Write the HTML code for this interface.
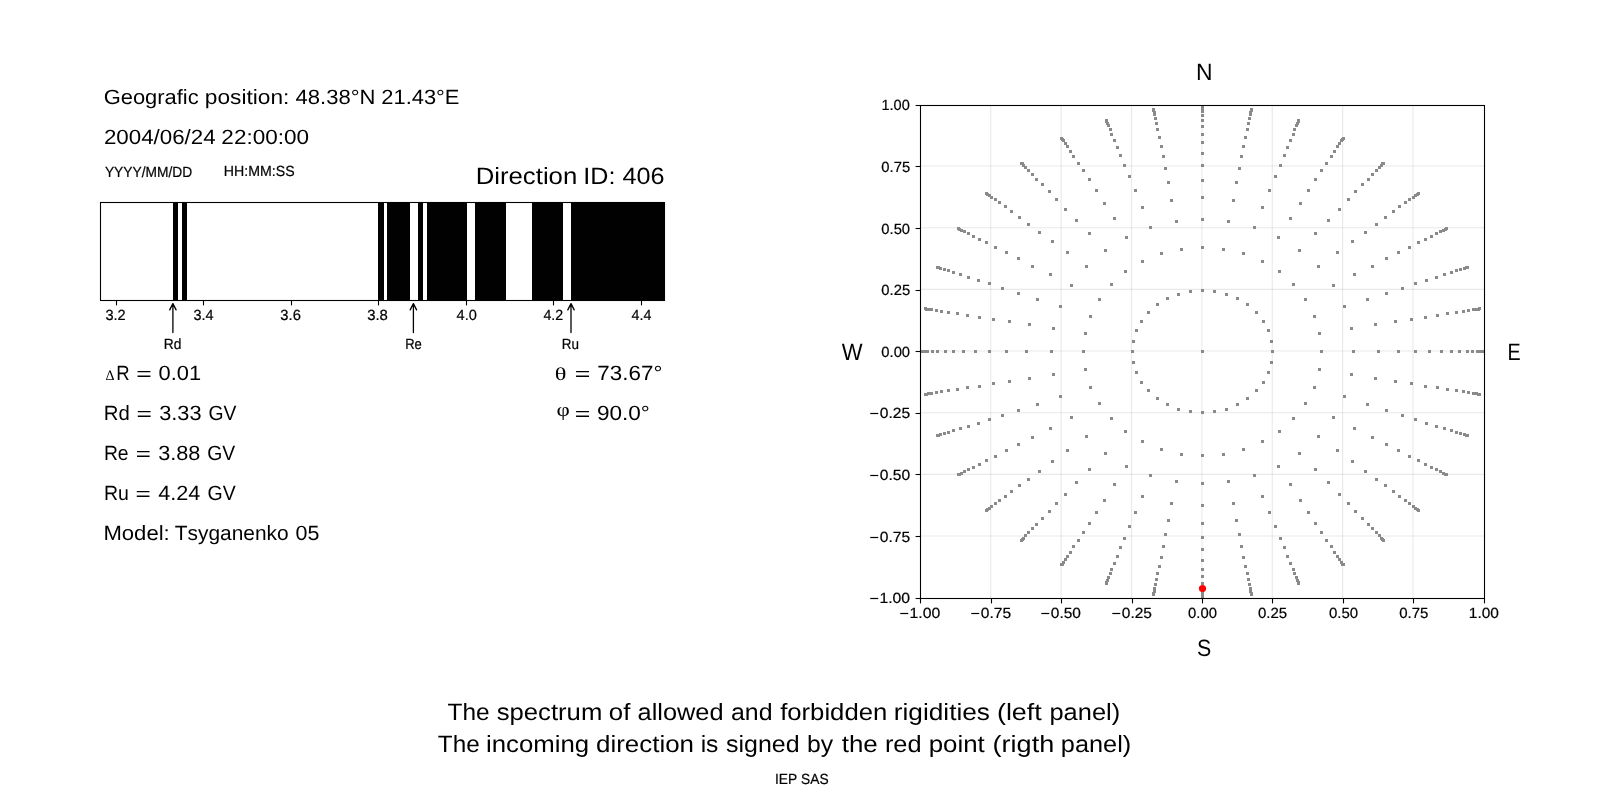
<!DOCTYPE html>
<html><head><meta charset="utf-8"><title>Rigidity spectrum</title>
<style>html,body{margin:0;padding:0;background:#fff;overflow:hidden}svg{display:block}text{font-kerning:none;white-space:pre;text-rendering:geometricPrecision}svg>g{opacity:.999}</style>
</head><body>
<svg width="1600" height="800" viewBox="0 0 1600 800">
<rect x="0" y="0" width="1600" height="800" fill="#fff"/>
<g id="spectrum">
<rect x="173" y="202" width="5" height="99" fill="#000"/>
<rect x="182" y="202" width="5" height="99" fill="#000"/>
<rect x="378" y="202" width="6" height="99" fill="#000"/>
<rect x="387" y="202" width="23" height="99" fill="#000"/>
<rect x="418" y="202" width="5" height="99" fill="#000"/>
<rect x="427" y="202" width="40" height="99" fill="#000"/>
<rect x="475" y="202" width="31" height="99" fill="#000"/>
<rect x="532" y="202" width="31" height="99" fill="#000"/>
<rect x="571" y="202" width="94" height="99" fill="#000"/>
<rect x="100.5" y="202.5" width="564" height="98" fill="none" stroke="#000" stroke-width="1.1"/>
<line x1="116.5" y1="301" x2="116.5" y2="305.4" stroke="#000" stroke-width="1.1"/>
<text transform="translate(105.444 320.000) scale(0.9916 1.0000)" font-family="Liberation Sans, sans-serif" font-size="14.720" fill="#000" stroke="#000" stroke-width="0.22">3.2</text>
<line x1="203.5" y1="301" x2="203.5" y2="305.4" stroke="#000" stroke-width="1.1"/>
<text transform="translate(193.450 320.000) scale(0.9809 1.0000)" font-family="Liberation Sans, sans-serif" font-size="14.720" fill="#000" stroke="#000" stroke-width="0.22">3.4</text>
<line x1="291.5" y1="301" x2="291.5" y2="305.4" stroke="#000" stroke-width="1.1"/>
<text transform="translate(280.338 320.000) scale(1.0023 1.0000)" font-family="Liberation Sans, sans-serif" font-size="14.720" fill="#000" stroke="#000" stroke-width="0.22">3.6</text>
<line x1="378.5" y1="301" x2="378.5" y2="305.4" stroke="#000" stroke-width="1.1"/>
<text transform="translate(367.182 320.000) scale(1.0123 1.0000)" font-family="Liberation Sans, sans-serif" font-size="14.720" fill="#000" stroke="#000" stroke-width="0.22">3.8</text>
<line x1="466.5" y1="301" x2="466.5" y2="305.4" stroke="#000" stroke-width="1.1"/>
<text transform="translate(456.566 320.000) scale(0.9898 1.0000)" font-family="Liberation Sans, sans-serif" font-size="14.720" fill="#000" stroke="#000" stroke-width="0.22">4.0</text>
<line x1="553.5" y1="301" x2="553.5" y2="305.4" stroke="#000" stroke-width="1.1"/>
<text transform="translate(543.423 320.000) scale(0.9673 1.0000)" font-family="Liberation Sans, sans-serif" font-size="14.720" fill="#000" stroke="#000" stroke-width="0.22">4.2</text>
<line x1="641.5" y1="301" x2="641.5" y2="305.4" stroke="#000" stroke-width="1.1"/>
<text transform="translate(631.572 320.000) scale(0.9699 1.0000)" font-family="Liberation Sans, sans-serif" font-size="14.720" fill="#000" stroke="#000" stroke-width="0.22">4.4</text>
<path d="M172.90 332.6 L172.90 303.6 M169.70 309.9 L172.90 303.6 L176.10 309.9" fill="none" stroke="#000" stroke-width="1.3" stroke-linecap="round" stroke-linejoin="round"/>
<text transform="translate(163.869 348.750) scale(0.9363 1.0000)" font-family="Liberation Sans, sans-serif" font-size="14.720" fill="#000" stroke="#000" stroke-width="0.22">Rd</text>
<path d="M413.40 332.6 L413.40 303.6 M410.20 309.9 L413.40 303.6 L416.60 309.9" fill="none" stroke="#000" stroke-width="1.3" stroke-linecap="round" stroke-linejoin="round"/>
<text transform="translate(405.182 348.750) scale(0.8847 1.0000)" font-family="Liberation Sans, sans-serif" font-size="14.720" fill="#000" stroke="#000" stroke-width="0.22">Re</text>
<path d="M571.00 332.6 L571.00 303.6 M567.80 309.9 L571.00 303.6 L574.20 309.9" fill="none" stroke="#000" stroke-width="1.3" stroke-linecap="round" stroke-linejoin="round"/>
<text transform="translate(561.796 348.750) scale(0.9139 1.0000)" font-family="Liberation Sans, sans-serif" font-size="14.720" fill="#000" stroke="#000" stroke-width="0.22">Ru</text>
</g>
<g id="lefttext">
<text transform="translate(103.648 104.000) scale(1.0640 1.0000)" font-family="Liberation Sans, sans-serif" font-size="20.600" fill="#000">Geografic</text>
<text transform="translate(204.786 104.000) scale(1.1024 1.0000)" font-family="Liberation Sans, sans-serif" font-size="20.600" fill="#000">position:</text>
<text transform="translate(295.494 104.000) scale(1.0702 1.0000)" font-family="Liberation Sans, sans-serif" font-size="20.600" fill="#000">48.38°N</text>
<text transform="translate(381.299 104.000) scale(1.0627 1.0000)" font-family="Liberation Sans, sans-serif" font-size="20.600" fill="#000">21.43°E</text>
<text transform="translate(103.877 144.000) scale(1.0842 1.0000)" font-family="Liberation Sans, sans-serif" font-size="20.600" fill="#000">2004/06/24</text>
<text transform="translate(221.368 144.000) scale(1.0926 1.0000)" font-family="Liberation Sans, sans-serif" font-size="20.600" fill="#000">22:00:00</text>
<text transform="translate(104.897 176.700) scale(0.9359 1.0000)" font-family="Liberation Sans, sans-serif" font-size="14.720" fill="#000" stroke="#000" stroke-width="0.22">YYYY/MM/DD</text>
<text transform="translate(223.838 175.800) scale(0.9621 1.0000)" font-family="Liberation Sans, sans-serif" font-size="14.720" fill="#000" stroke="#000" stroke-width="0.22">HH:MM:SS</text>
<text transform="translate(475.637 184.000) scale(1.0938 1.0000)" font-family="Liberation Sans, sans-serif" font-size="23.550" fill="#000">Direction</text>
<text transform="translate(583.281 184.000) scale(1.0672 1.0000)" font-family="Liberation Sans, sans-serif" font-size="23.550" fill="#000">ID:</text>
<text transform="translate(622.521 184.000) scale(1.0711 1.0000)" font-family="Liberation Sans, sans-serif" font-size="23.550" fill="#000">406</text>
<text transform="translate(105.463 380.000) scale(1.0071 1.0171)" font-family="Liberation Serif, serif" font-size="14.000" fill="#000">Δ</text>
<text transform="translate(116.230 380.000) scale(0.8993 1.0000)" font-family="Liberation Sans, sans-serif" font-size="20.600" fill="#000">R</text>
<text transform="translate(136.204 380.427) scale(1.2889 0.9038)" font-family="Liberation Sans, sans-serif" font-size="20.600" fill="#000">=</text>
<text transform="translate(158.547 380.000) scale(1.0605 1.0000)" font-family="Liberation Sans, sans-serif" font-size="20.600" fill="#000">0.01</text>
<text transform="translate(103.833 420.000) scale(0.9865 1.0000)" font-family="Liberation Sans, sans-serif" font-size="20.600" fill="#000">Rd</text>
<text transform="translate(136.459 420.427) scale(1.2839 0.9038)" font-family="Liberation Sans, sans-serif" font-size="20.600" fill="#000">=</text>
<text transform="translate(159.171 420.000) scale(1.0572 1.0000)" font-family="Liberation Sans, sans-serif" font-size="20.600" fill="#000">3.33</text>
<text transform="translate(208.427 420.000) scale(0.9394 1.0000)" font-family="Liberation Sans, sans-serif" font-size="20.600" fill="#000">GV</text>
<text transform="translate(103.915 460.000) scale(0.9377 1.0000)" font-family="Liberation Sans, sans-serif" font-size="20.600" fill="#000">Re</text>
<text transform="translate(135.634 460.427) scale(1.2590 0.9038)" font-family="Liberation Sans, sans-serif" font-size="20.600" fill="#000">=</text>
<text transform="translate(158.175 460.000) scale(1.0517 1.0000)" font-family="Liberation Sans, sans-serif" font-size="20.600" fill="#000">3.88</text>
<text transform="translate(207.127 460.000) scale(0.9394 1.0000)" font-family="Liberation Sans, sans-serif" font-size="20.600" fill="#000">GV</text>
<text transform="translate(103.903 500.000) scale(0.9452 1.0000)" font-family="Liberation Sans, sans-serif" font-size="20.600" fill="#000">Ru</text>
<text transform="translate(135.624 500.427) scale(1.2689 0.9038)" font-family="Liberation Sans, sans-serif" font-size="20.600" fill="#000">=</text>
<text transform="translate(158.253 500.000) scale(1.0508 1.0000)" font-family="Liberation Sans, sans-serif" font-size="20.600" fill="#000">4.24</text>
<text transform="translate(207.520 500.000) scale(0.9463 1.0000)" font-family="Liberation Sans, sans-serif" font-size="20.600" fill="#000">GV</text>
<text transform="translate(103.386 540.000) scale(1.0736 1.0000)" font-family="Liberation Sans, sans-serif" font-size="20.600" fill="#000">Model:</text>
<text transform="translate(174.781 540.000) scale(1.0145 1.0000)" font-family="Liberation Sans, sans-serif" font-size="20.600" fill="#000">Tsyganenko</text>
<text transform="translate(295.463 540.000) scale(1.0403 1.0000)" font-family="Liberation Sans, sans-serif" font-size="20.600" fill="#000">05</text>
<text transform="translate(554.857 380.021) scale(1.3545 1.0187)" font-family="Liberation Serif, serif" font-size="18.000" fill="#000">θ</text>
<text transform="translate(574.693 380.427) scale(1.2989 0.9038)" font-family="Liberation Sans, sans-serif" font-size="20.600" fill="#000">=</text>
<text transform="translate(597.352 380.000) scale(1.0871 1.0000)" font-family="Liberation Sans, sans-serif" font-size="20.600" fill="#000">73.67°</text>
<text transform="translate(556.612 416.095) scale(1.2790 1.0712)" font-family="Liberation Serif, serif" font-size="18.000" fill="#000">φ</text>
<text transform="translate(574.693 420.427) scale(1.2989 0.9038)" font-family="Liberation Sans, sans-serif" font-size="20.600" fill="#000">=</text>
<text transform="translate(596.943 420.000) scale(1.0948 1.0000)" font-family="Liberation Sans, sans-serif" font-size="20.600" fill="#000">90.0°</text>
</g>
<g id="sky">
<line x1="990.75" y1="106" x2="990.75" y2="598" stroke="#b0b0b0" stroke-opacity="0.28" stroke-width="1.11"/>
<line x1="1061.10" y1="106" x2="1061.10" y2="598" stroke="#b0b0b0" stroke-opacity="0.28" stroke-width="1.11"/>
<line x1="1131.50" y1="106" x2="1131.50" y2="598" stroke="#b0b0b0" stroke-opacity="0.28" stroke-width="1.11"/>
<line x1="1201.90" y1="106" x2="1201.90" y2="598" stroke="#b0b0b0" stroke-opacity="0.28" stroke-width="1.11"/>
<line x1="1272.25" y1="106" x2="1272.25" y2="598" stroke="#b0b0b0" stroke-opacity="0.28" stroke-width="1.11"/>
<line x1="1342.60" y1="106" x2="1342.60" y2="598" stroke="#b0b0b0" stroke-opacity="0.28" stroke-width="1.11"/>
<line x1="1413.00" y1="106" x2="1413.00" y2="598" stroke="#b0b0b0" stroke-opacity="0.28" stroke-width="1.11"/>
<line x1="921" y1="166.00" x2="1484" y2="166.00" stroke="#b0b0b0" stroke-opacity="0.28" stroke-width="1.11"/>
<line x1="921" y1="227.70" x2="1484" y2="227.70" stroke="#b0b0b0" stroke-opacity="0.28" stroke-width="1.11"/>
<line x1="921" y1="289.35" x2="1484" y2="289.35" stroke="#b0b0b0" stroke-opacity="0.28" stroke-width="1.11"/>
<line x1="921" y1="351.00" x2="1484" y2="351.00" stroke="#b0b0b0" stroke-opacity="0.28" stroke-width="1.11"/>
<line x1="921" y1="412.70" x2="1484" y2="412.70" stroke="#b0b0b0" stroke-opacity="0.28" stroke-width="1.11"/>
<line x1="921" y1="474.35" x2="1484" y2="474.35" stroke="#b0b0b0" stroke-opacity="0.28" stroke-width="1.11"/>
<line x1="921" y1="536.00" x2="1484" y2="536.00" stroke="#b0b0b0" stroke-opacity="0.28" stroke-width="1.11"/>
<clipPath id="c"><rect x="920.5" y="105.5" width="564" height="493"/></clipPath>
<path clip-path="url(#c)" fill="#8a8a8a" d="M1201 350h3v3h-3zM1271 350h3v3h-3zM1270 340h3v3h-3zM1267 329h3v3h-3zM1262 320h3v3h-3zM1255 311h3v3h-3zM1246 303h3v3h-3zM1236 297h3v3h-3zM1225 293h3v3h-3zM1213 290h3v3h-3zM1201 289h3v3h-3zM1189 290h3v3h-3zM1177 293h3v3h-3zM1166 297h3v3h-3zM1156 303h3v3h-3zM1147 311h3v3h-3zM1140 320h3v3h-3zM1135 329h3v3h-3zM1132 340h3v3h-3zM1131 350h3v3h-3zM1132 361h3v3h-3zM1135 371h3v3h-3zM1140 381h3v3h-3zM1147 389h3v3h-3zM1156 397h3v3h-3zM1166 403h3v3h-3zM1177 408h3v3h-3zM1189 410h3v3h-3zM1201 411h3v3h-3zM1213 410h3v3h-3zM1225 408h3v3h-3zM1236 403h3v3h-3zM1246 397h3v3h-3zM1255 389h3v3h-3zM1262 381h3v3h-3zM1267 371h3v3h-3zM1270 361h3v3h-3zM1320 350h3v3h-3zM1318 332h3v3h-3zM1313 315h3v3h-3zM1304 298h3v3h-3zM1292 283h3v3h-3zM1278 270h3v3h-3zM1261 260h3v3h-3zM1242 252h3v3h-3zM1222 248h3v3h-3zM1201 246h3v3h-3zM1180 248h3v3h-3zM1160 252h3v3h-3zM1141 260h3v3h-3zM1124 270h3v3h-3zM1110 283h3v3h-3zM1098 298h3v3h-3zM1089 315h3v3h-3zM1084 332h3v3h-3zM1082 350h3v3h-3zM1084 368h3v3h-3zM1089 386h3v3h-3zM1098 402h3v3h-3zM1110 417h3v3h-3zM1124 430h3v3h-3zM1141 440h3v3h-3zM1160 448h3v3h-3zM1180 453h3v3h-3zM1201 454h3v3h-3zM1222 453h3v3h-3zM1242 448h3v3h-3zM1261 440h3v3h-3zM1278 430h3v3h-3zM1292 417h3v3h-3zM1304 402h3v3h-3zM1313 386h3v3h-3zM1318 368h3v3h-3zM1352 350h3v3h-3zM1350 327h3v3h-3zM1343 305h3v3h-3zM1332 284h3v3h-3zM1317 265h3v3h-3zM1298 249h3v3h-3zM1277 236h3v3h-3zM1253 226h3v3h-3zM1227 220h3v3h-3zM1201 218h3v3h-3zM1175 220h3v3h-3zM1149 226h3v3h-3zM1125 236h3v3h-3zM1104 249h3v3h-3zM1085 265h3v3h-3zM1070 284h3v3h-3zM1059 305h3v3h-3zM1052 327h3v3h-3zM1050 350h3v3h-3zM1052 373h3v3h-3zM1059 395h3v3h-3zM1070 416h3v3h-3zM1085 435h3v3h-3zM1104 452h3v3h-3zM1125 465h3v3h-3zM1149 474h3v3h-3zM1175 480h3v3h-3zM1201 482h3v3h-3zM1227 480h3v3h-3zM1253 474h3v3h-3zM1277 465h3v3h-3zM1298 452h3v3h-3zM1317 435h3v3h-3zM1332 416h3v3h-3zM1343 395h3v3h-3zM1350 373h3v3h-3zM1377 350h3v3h-3zM1374 323h3v3h-3zM1366 298h3v3h-3zM1353 273h3v3h-3zM1336 251h3v3h-3zM1314 232h3v3h-3zM1289 217h3v3h-3zM1261 206h3v3h-3zM1232 199h3v3h-3zM1201 196h3v3h-3zM1170 199h3v3h-3zM1141 206h3v3h-3zM1113 217h3v3h-3zM1088 232h3v3h-3zM1066 251h3v3h-3zM1049 273h3v3h-3zM1036 298h3v3h-3zM1028 323h3v3h-3zM1025 350h3v3h-3zM1028 377h3v3h-3zM1036 403h3v3h-3zM1049 427h3v3h-3zM1066 449h3v3h-3zM1088 468h3v3h-3zM1113 483h3v3h-3zM1141 495h3v3h-3zM1170 502h3v3h-3zM1201 504h3v3h-3zM1232 502h3v3h-3zM1261 495h3v3h-3zM1289 483h3v3h-3zM1314 468h3v3h-3zM1336 449h3v3h-3zM1353 427h3v3h-3zM1366 403h3v3h-3zM1374 377h3v3h-3zM1397 350h3v3h-3zM1394 320h3v3h-3zM1385 292h3v3h-3zM1371 265h3v3h-3zM1351 240h3v3h-3zM1327 219h3v3h-3zM1299 202h3v3h-3zM1268 189h3v3h-3zM1235 181h3v3h-3zM1201 179h3v3h-3zM1167 181h3v3h-3zM1134 189h3v3h-3zM1103 202h3v3h-3zM1075 219h3v3h-3zM1051 240h3v3h-3zM1031 265h3v3h-3zM1017 292h3v3h-3zM1008 320h3v3h-3zM1005 350h3v3h-3zM1008 380h3v3h-3zM1017 409h3v3h-3zM1031 436h3v3h-3zM1051 460h3v3h-3zM1075 481h3v3h-3zM1103 499h3v3h-3zM1134 511h3v3h-3zM1167 519h3v3h-3zM1201 522h3v3h-3zM1235 519h3v3h-3zM1268 511h3v3h-3zM1299 499h3v3h-3zM1327 481h3v3h-3zM1351 460h3v3h-3zM1371 436h3v3h-3zM1385 409h3v3h-3zM1394 380h3v3h-3zM1414 350h3v3h-3zM1410 318h3v3h-3zM1401 287h3v3h-3zM1385 257h3v3h-3zM1364 231h3v3h-3zM1338 208h3v3h-3zM1307 189h3v3h-3zM1274 175h3v3h-3zM1238 167h3v3h-3zM1201 164h3v3h-3zM1164 167h3v3h-3zM1128 175h3v3h-3zM1095 189h3v3h-3zM1064 208h3v3h-3zM1038 231h3v3h-3zM1017 257h3v3h-3zM1001 287h3v3h-3zM992 318h3v3h-3zM988 350h3v3h-3zM992 382h3v3h-3zM1001 414h3v3h-3zM1017 443h3v3h-3zM1038 470h3v3h-3zM1064 493h3v3h-3zM1095 511h3v3h-3zM1128 525h3v3h-3zM1164 533h3v3h-3zM1201 536h3v3h-3zM1238 533h3v3h-3zM1274 525h3v3h-3zM1307 511h3v3h-3zM1338 493h3v3h-3zM1364 470h3v3h-3zM1385 443h3v3h-3zM1401 414h3v3h-3zM1410 382h3v3h-3zM1428 350h3v3h-3zM1424 316h3v3h-3zM1414 282h3v3h-3zM1397 251h3v3h-3zM1375 223h3v3h-3zM1347 198h3v3h-3zM1314 178h3v3h-3zM1279 164h3v3h-3zM1240 155h3v3h-3zM1201 152h3v3h-3zM1162 155h3v3h-3zM1123 164h3v3h-3zM1088 178h3v3h-3zM1055 198h3v3h-3zM1027 223h3v3h-3zM1005 251h3v3h-3zM988 282h3v3h-3zM978 316h3v3h-3zM974 350h3v3h-3zM978 385h3v3h-3zM988 418h3v3h-3zM1005 449h3v3h-3zM1027 478h3v3h-3zM1055 502h3v3h-3zM1088 522h3v3h-3zM1123 537h3v3h-3zM1162 545h3v3h-3zM1201 548h3v3h-3zM1240 545h3v3h-3zM1279 537h3v3h-3zM1314 522h3v3h-3zM1347 502h3v3h-3zM1375 478h3v3h-3zM1397 449h3v3h-3zM1414 418h3v3h-3zM1424 385h3v3h-3zM1440 350h3v3h-3zM1436 314h3v3h-3zM1425 279h3v3h-3zM1408 246h3v3h-3zM1384 216h3v3h-3zM1354 190h3v3h-3zM1320 169h3v3h-3zM1283 154h3v3h-3zM1242 145h3v3h-3zM1201 141h3v3h-3zM1160 145h3v3h-3zM1119 154h3v3h-3zM1082 169h3v3h-3zM1048 190h3v3h-3zM1018 216h3v3h-3zM994 246h3v3h-3zM977 279h3v3h-3zM966 314h3v3h-3zM962 350h3v3h-3zM966 386h3v3h-3zM977 422h3v3h-3zM994 455h3v3h-3zM1018 484h3v3h-3zM1048 510h3v3h-3zM1082 531h3v3h-3zM1119 546h3v3h-3zM1160 556h3v3h-3zM1201 559h3v3h-3zM1242 556h3v3h-3zM1283 546h3v3h-3zM1320 531h3v3h-3zM1354 510h3v3h-3zM1384 484h3v3h-3zM1408 455h3v3h-3zM1425 422h3v3h-3zM1436 386h3v3h-3zM1450 350h3v3h-3zM1446 312h3v3h-3zM1435 276h3v3h-3zM1417 241h3v3h-3zM1392 210h3v3h-3zM1361 183h3v3h-3zM1325 162h3v3h-3zM1286 146h3v3h-3zM1244 136h3v3h-3zM1201 133h3v3h-3zM1158 136h3v3h-3zM1116 146h3v3h-3zM1077 162h3v3h-3zM1041 183h3v3h-3zM1010 210h3v3h-3zM985 241h3v3h-3zM967 276h3v3h-3zM956 312h3v3h-3zM952 350h3v3h-3zM956 388h3v3h-3zM967 425h3v3h-3zM985 459h3v3h-3zM1010 490h3v3h-3zM1041 517h3v3h-3zM1077 539h3v3h-3zM1116 555h3v3h-3zM1158 565h3v3h-3zM1201 568h3v3h-3zM1244 565h3v3h-3zM1286 555h3v3h-3zM1325 539h3v3h-3zM1361 517h3v3h-3zM1392 490h3v3h-3zM1417 459h3v3h-3zM1435 425h3v3h-3zM1446 388h3v3h-3zM1458 350h3v3h-3zM1455 311h3v3h-3zM1443 273h3v3h-3zM1424 238h3v3h-3zM1398 205h3v3h-3zM1367 178h3v3h-3zM1330 155h3v3h-3zM1289 139h3v3h-3zM1246 128h3v3h-3zM1201 125h3v3h-3zM1156 128h3v3h-3zM1113 139h3v3h-3zM1072 155h3v3h-3zM1035 178h3v3h-3zM1004 205h3v3h-3zM978 238h3v3h-3zM959 273h3v3h-3zM947 311h3v3h-3zM944 350h3v3h-3zM947 389h3v3h-3zM959 427h3v3h-3zM978 463h3v3h-3zM1004 495h3v3h-3zM1035 523h3v3h-3zM1072 545h3v3h-3zM1113 562h3v3h-3zM1156 572h3v3h-3zM1201 575h3v3h-3zM1246 572h3v3h-3zM1289 562h3v3h-3zM1330 545h3v3h-3zM1367 523h3v3h-3zM1398 495h3v3h-3zM1424 463h3v3h-3zM1443 427h3v3h-3zM1455 389h3v3h-3zM1466 350h3v3h-3zM1462 310h3v3h-3zM1450 271h3v3h-3zM1430 235h3v3h-3zM1404 201h3v3h-3zM1371 173h3v3h-3zM1333 150h3v3h-3zM1292 133h3v3h-3zM1247 122h3v3h-3zM1201 119h3v3h-3zM1155 122h3v3h-3zM1110 133h3v3h-3zM1069 150h3v3h-3zM1031 173h3v3h-3zM998 201h3v3h-3zM972 235h3v3h-3zM952 271h3v3h-3zM940 310h3v3h-3zM936 350h3v3h-3zM940 390h3v3h-3zM952 429h3v3h-3zM972 466h3v3h-3zM998 499h3v3h-3zM1031 527h3v3h-3zM1069 551h3v3h-3zM1110 568h3v3h-3zM1155 578h3v3h-3zM1201 582h3v3h-3zM1247 578h3v3h-3zM1292 568h3v3h-3zM1333 551h3v3h-3zM1371 527h3v3h-3zM1404 499h3v3h-3zM1430 466h3v3h-3zM1450 429h3v3h-3zM1462 390h3v3h-3zM1471 350h3v3h-3zM1467 309h3v3h-3zM1455 269h3v3h-3zM1435 232h3v3h-3zM1408 198h3v3h-3zM1375 169h3v3h-3zM1336 145h3v3h-3zM1293 128h3v3h-3zM1248 117h3v3h-3zM1201 114h3v3h-3zM1154 117h3v3h-3zM1109 128h3v3h-3zM1066 145h3v3h-3zM1027 169h3v3h-3zM994 198h3v3h-3zM967 232h3v3h-3zM947 269h3v3h-3zM935 309h3v3h-3zM931 350h3v3h-3zM935 391h3v3h-3zM947 431h3v3h-3zM967 468h3v3h-3zM994 502h3v3h-3zM1027 531h3v3h-3zM1066 555h3v3h-3zM1109 572h3v3h-3zM1154 583h3v3h-3zM1201 587h3v3h-3zM1248 583h3v3h-3zM1293 572h3v3h-3zM1336 555h3v3h-3zM1375 531h3v3h-3zM1408 502h3v3h-3zM1435 468h3v3h-3zM1455 431h3v3h-3zM1467 391h3v3h-3zM1476 350h3v3h-3zM1472 308h3v3h-3zM1459 268h3v3h-3zM1439 230h3v3h-3zM1412 196h3v3h-3zM1378 166h3v3h-3zM1338 142h3v3h-3zM1295 124h3v3h-3zM1249 113h3v3h-3zM1201 110h3v3h-3zM1153 113h3v3h-3zM1107 124h3v3h-3zM1064 142h3v3h-3zM1024 166h3v3h-3zM990 196h3v3h-3zM963 230h3v3h-3zM943 268h3v3h-3zM930 308h3v3h-3zM926 350h3v3h-3zM930 392h3v3h-3zM943 432h3v3h-3zM963 470h3v3h-3zM990 505h3v3h-3zM1024 534h3v3h-3zM1064 558h3v3h-3zM1107 576h3v3h-3zM1153 587h3v3h-3zM1201 591h3v3h-3zM1249 587h3v3h-3zM1295 576h3v3h-3zM1338 558h3v3h-3zM1378 534h3v3h-3zM1412 505h3v3h-3zM1439 470h3v3h-3zM1459 432h3v3h-3zM1472 392h3v3h-3zM1479 350h3v3h-3zM1475 308h3v3h-3zM1463 267h3v3h-3zM1442 229h3v3h-3zM1414 194h3v3h-3zM1380 164h3v3h-3zM1340 139h3v3h-3zM1296 122h3v3h-3zM1249 111h3v3h-3zM1201 107h3v3h-3zM1153 111h3v3h-3zM1106 122h3v3h-3zM1062 139h3v3h-3zM1022 164h3v3h-3zM988 194h3v3h-3zM960 229h3v3h-3zM939 267h3v3h-3zM927 308h3v3h-3zM923 350h3v3h-3zM927 392h3v3h-3zM939 433h3v3h-3zM960 472h3v3h-3zM988 507h3v3h-3zM1022 537h3v3h-3zM1062 561h3v3h-3zM1106 579h3v3h-3zM1153 590h3v3h-3zM1201 594h3v3h-3zM1249 590h3v3h-3zM1296 579h3v3h-3zM1340 561h3v3h-3zM1380 537h3v3h-3zM1414 507h3v3h-3zM1442 472h3v3h-3zM1463 433h3v3h-3zM1475 392h3v3h-3zM1482 350h3v3h-3zM1477 308h3v3h-3zM1465 266h3v3h-3zM1444 228h3v3h-3zM1416 193h3v3h-3zM1381 162h3v3h-3zM1341 138h3v3h-3zM1297 120h3v3h-3zM1250 109h3v3h-3zM1201 105h3v3h-3zM1152 109h3v3h-3zM1105 120h3v3h-3zM1061 138h3v3h-3zM1021 162h3v3h-3zM986 193h3v3h-3zM958 228h3v3h-3zM937 266h3v3h-3zM925 308h3v3h-3zM920 350h3v3h-3zM925 393h3v3h-3zM937 434h3v3h-3zM958 473h3v3h-3zM986 508h3v3h-3zM1021 538h3v3h-3zM1061 563h3v3h-3zM1105 581h3v3h-3zM1152 592h3v3h-3zM1201 596h3v3h-3zM1250 592h3v3h-3zM1297 581h3v3h-3zM1341 563h3v3h-3zM1381 538h3v3h-3zM1416 508h3v3h-3zM1444 473h3v3h-3zM1465 434h3v3h-3zM1477 393h3v3h-3zM1483 350h3v3h-3zM1478 307h3v3h-3zM1466 266h3v3h-3zM1445 227h3v3h-3zM1417 192h3v3h-3zM1382 162h3v3h-3zM1342 137h3v3h-3zM1297 119h3v3h-3zM1250 108h3v3h-3zM1201 104h3v3h-3zM1152 108h3v3h-3zM1105 119h3v3h-3zM1060 137h3v3h-3zM1020 162h3v3h-3zM985 192h3v3h-3zM957 227h3v3h-3zM936 266h3v3h-3zM924 307h3v3h-3zM919 350h3v3h-3zM924 393h3v3h-3zM936 434h3v3h-3zM957 473h3v3h-3zM985 509h3v3h-3zM1020 539h3v3h-3zM1060 563h3v3h-3zM1105 582h3v3h-3zM1152 593h3v3h-3zM1201 596h3v3h-3zM1250 593h3v3h-3zM1297 582h3v3h-3zM1342 563h3v3h-3zM1382 539h3v3h-3zM1417 509h3v3h-3zM1445 473h3v3h-3zM1466 434h3v3h-3zM1478 393h3v3h-3z"/>
<circle cx="1202.5" cy="588.5" r="3.6" fill="#f00"/>
<rect x="920.5" y="105.5" width="564" height="493" fill="none" stroke="#000" stroke-width="1.1"/>
<line x1="920.5" y1="599" x2="920.5" y2="603.4" stroke="#000" stroke-width="1.1"/>
<rect x="900.25" y="612.90" width="8.0" height="1.2" fill="#000"/><text transform="translate(909.446 618.000) scale(1.0741 1.0000)" font-family="Liberation Sans, sans-serif" font-size="14.720" fill="#000" stroke="#000" stroke-width="0.22">1.00</text>
<line x1="991.5" y1="599" x2="991.5" y2="603.4" stroke="#000" stroke-width="1.1"/>
<rect x="971.25" y="612.90" width="8.0" height="1.2" fill="#000"/><text transform="translate(980.742 618.000) scale(1.0580 1.0000)" font-family="Liberation Sans, sans-serif" font-size="14.720" fill="#000" stroke="#000" stroke-width="0.22">0.75</text>
<line x1="1061.5" y1="599" x2="1061.5" y2="603.4" stroke="#000" stroke-width="1.1"/>
<rect x="1041.30" y="612.90" width="8.0" height="1.2" fill="#000"/><text transform="translate(1050.796 618.000) scale(1.0509 1.0000)" font-family="Liberation Sans, sans-serif" font-size="14.720" fill="#000" stroke="#000" stroke-width="0.22">0.50</text>
<line x1="1132.5" y1="599" x2="1132.5" y2="603.4" stroke="#000" stroke-width="1.1"/>
<rect x="1112.30" y="612.90" width="8.0" height="1.2" fill="#000"/><text transform="translate(1121.795 618.000) scale(1.0526 1.0000)" font-family="Liberation Sans, sans-serif" font-size="14.720" fill="#000" stroke="#000" stroke-width="0.22">0.25</text>
<line x1="1202.5" y1="599" x2="1202.5" y2="603.4" stroke="#000" stroke-width="1.1"/>
<text transform="translate(1188.121 618.000) scale(1.0073 1.0000)" font-family="Liberation Sans, sans-serif" font-size="14.720" fill="#000" stroke="#000" stroke-width="0.22">0.00</text>
<line x1="1272.5" y1="599" x2="1272.5" y2="603.4" stroke="#000" stroke-width="1.1"/>
<text transform="translate(1257.914 618.000) scale(1.0198 1.0000)" font-family="Liberation Sans, sans-serif" font-size="14.720" fill="#000" stroke="#000" stroke-width="0.22">0.25</text>
<line x1="1343.5" y1="599" x2="1343.5" y2="603.4" stroke="#000" stroke-width="1.1"/>
<text transform="translate(1328.915 618.000) scale(1.0182 1.0000)" font-family="Liberation Sans, sans-serif" font-size="14.720" fill="#000" stroke="#000" stroke-width="0.22">0.50</text>
<line x1="1413.5" y1="599" x2="1413.5" y2="603.4" stroke="#000" stroke-width="1.1"/>
<text transform="translate(1399.214 618.000) scale(1.0198 1.0000)" font-family="Liberation Sans, sans-serif" font-size="14.720" fill="#000" stroke="#000" stroke-width="0.22">0.75</text>
<line x1="1484.5" y1="599" x2="1484.5" y2="603.4" stroke="#000" stroke-width="1.1"/>
<text transform="translate(1468.823 618.000) scale(1.0500 1.0000)" font-family="Liberation Sans, sans-serif" font-size="14.720" fill="#000" stroke="#000" stroke-width="0.22">1.00</text>
<line x1="915.6" y1="105.5" x2="920" y2="105.5" stroke="#000" stroke-width="1.1"/>
<text transform="translate(881.493 110.000) scale(0.9869 1.0000)" font-family="Liberation Sans, sans-serif" font-size="14.720" fill="#000" stroke="#000" stroke-width="0.22">1.00</text>
<line x1="915.6" y1="166.5" x2="920" y2="166.5" stroke="#000" stroke-width="1.1"/>
<text transform="translate(881.322 172.000) scale(1.0052 1.0000)" font-family="Liberation Sans, sans-serif" font-size="14.720" fill="#000" stroke="#000" stroke-width="0.22">0.75</text>
<line x1="915.6" y1="228.5" x2="920" y2="228.5" stroke="#000" stroke-width="1.1"/>
<text transform="translate(881.323 234.000) scale(1.0037 1.0000)" font-family="Liberation Sans, sans-serif" font-size="14.720" fill="#000" stroke="#000" stroke-width="0.22">0.50</text>
<line x1="915.6" y1="290.5" x2="920" y2="290.5" stroke="#000" stroke-width="1.1"/>
<text transform="translate(881.322 295.000) scale(1.0052 1.0000)" font-family="Liberation Sans, sans-serif" font-size="14.720" fill="#000" stroke="#000" stroke-width="0.22">0.25</text>
<line x1="915.6" y1="351.5" x2="920" y2="351.5" stroke="#000" stroke-width="1.1"/>
<text transform="translate(881.323 357.000) scale(1.0037 1.0000)" font-family="Liberation Sans, sans-serif" font-size="14.720" fill="#000" stroke="#000" stroke-width="0.22">0.00</text>
<line x1="915.6" y1="413.5" x2="920" y2="413.5" stroke="#000" stroke-width="1.1"/>
<rect x="870.25" y="412.90" width="8.0" height="1.2" fill="#000"/><text transform="translate(879.740 418.000) scale(1.0617 1.0000)" font-family="Liberation Sans, sans-serif" font-size="14.720" fill="#000" stroke="#000" stroke-width="0.22">0.25</text>
<line x1="915.6" y1="474.5" x2="920" y2="474.5" stroke="#000" stroke-width="1.1"/>
<rect x="870.25" y="474.90" width="8.0" height="1.2" fill="#000"/><text transform="translate(879.740 480.000) scale(1.0600 1.0000)" font-family="Liberation Sans, sans-serif" font-size="14.720" fill="#000" stroke="#000" stroke-width="0.22">0.50</text>
<line x1="915.6" y1="536.5" x2="920" y2="536.5" stroke="#000" stroke-width="1.1"/>
<rect x="870.25" y="536.90" width="8.0" height="1.2" fill="#000"/><text transform="translate(879.740 542.000) scale(1.0617 1.0000)" font-family="Liberation Sans, sans-serif" font-size="14.720" fill="#000" stroke="#000" stroke-width="0.22">0.75</text>
<line x1="915.6" y1="598.5" x2="920" y2="598.5" stroke="#000" stroke-width="1.1"/>
<rect x="870.25" y="597.90" width="8.0" height="1.2" fill="#000"/><text transform="translate(879.450 603.000) scale(1.0704 1.0000)" font-family="Liberation Sans, sans-serif" font-size="14.720" fill="#000" stroke="#000" stroke-width="0.22">1.00</text>
<text transform="translate(1195.920 80.000) scale(0.9730 1.0000)" font-family="Liberation Sans, sans-serif" font-size="23.550" fill="#000">N</text>
<text transform="translate(1197.030 655.700) scale(0.9073 1.0000)" font-family="Liberation Sans, sans-serif" font-size="23.550" fill="#000">S</text>
<text transform="translate(841.653 360.000) scale(0.9368 1.0000)" font-family="Liberation Sans, sans-serif" font-size="23.550" fill="#000">W</text>
<text transform="translate(1507.381 360.000) scale(0.8383 1.0000)" font-family="Liberation Sans, sans-serif" font-size="23.550" fill="#000">E</text>
</g>
<g id="caption">
<text transform="translate(447.551 720.000) scale(1.0383 1.0000)" font-family="Liberation Sans, sans-serif" font-size="23.550" fill="#000">The</text>
<text transform="translate(496.685 720.000) scale(1.0905 1.0000)" font-family="Liberation Sans, sans-serif" font-size="23.550" fill="#000">spectrum</text>
<text transform="translate(608.815 720.000) scale(1.0971 1.0000)" font-family="Liberation Sans, sans-serif" font-size="23.550" fill="#000">of</text>
<text transform="translate(637.624 720.000) scale(1.0757 1.0000)" font-family="Liberation Sans, sans-serif" font-size="23.550" fill="#000">allowed</text>
<text transform="translate(730.942 720.000) scale(1.0578 1.0000)" font-family="Liberation Sans, sans-serif" font-size="23.550" fill="#000">and</text>
<text transform="translate(780.136 720.000) scale(1.0909 1.0000)" font-family="Liberation Sans, sans-serif" font-size="23.550" fill="#000">forbidden</text>
<text transform="translate(893.759 720.000) scale(1.1135 1.0000)" font-family="Liberation Sans, sans-serif" font-size="23.550" fill="#000">rigidities</text>
<text transform="translate(996.935 720.000) scale(1.1402 1.0000)" font-family="Liberation Sans, sans-serif" font-size="23.550" fill="#000">(left</text>
<text transform="translate(1049.460 720.000) scale(1.0802 1.0000)" font-family="Liberation Sans, sans-serif" font-size="23.550" fill="#000">panel)</text>
<text transform="translate(437.854 752.000) scale(1.0319 1.0000)" font-family="Liberation Sans, sans-serif" font-size="23.550" fill="#000">The</text>
<text transform="translate(486.026 752.000) scale(1.0943 1.0000)" font-family="Liberation Sans, sans-serif" font-size="23.550" fill="#000">incoming</text>
<text transform="translate(596.012 752.000) scale(1.1006 1.0000)" font-family="Liberation Sans, sans-serif" font-size="23.550" fill="#000">direction</text>
<text transform="translate(700.658 752.000) scale(1.0425 1.0000)" font-family="Liberation Sans, sans-serif" font-size="23.550" fill="#000">is</text>
<text transform="translate(726.106 752.000) scale(1.0592 1.0000)" font-family="Liberation Sans, sans-serif" font-size="23.550" fill="#000">signed</text>
<text transform="translate(806.905 752.000) scale(1.0511 1.0000)" font-family="Liberation Sans, sans-serif" font-size="23.550" fill="#000">by</text>
<text transform="translate(841.708 752.000) scale(1.1010 1.0000)" font-family="Liberation Sans, sans-serif" font-size="23.550" fill="#000">the</text>
<text transform="translate(884.918 752.000) scale(1.0757 1.0000)" font-family="Liberation Sans, sans-serif" font-size="23.550" fill="#000">red</text>
<text transform="translate(928.734 752.000) scale(1.0977 1.0000)" font-family="Liberation Sans, sans-serif" font-size="23.550" fill="#000">point</text>
<text transform="translate(992.571 752.000) scale(1.1497 1.0000)" font-family="Liberation Sans, sans-serif" font-size="23.550" fill="#000">(rigth</text>
<text transform="translate(1060.868 752.000) scale(1.0754 1.0000)" font-family="Liberation Sans, sans-serif" font-size="23.550" fill="#000">panel)</text>
<text transform="translate(774.977 784.250) scale(0.9369 1.0000)" font-family="Liberation Sans, sans-serif" font-size="14.720" fill="#000" stroke="#000" stroke-width="0.22">IEP SAS</text>
</g>
</svg></body></html>
